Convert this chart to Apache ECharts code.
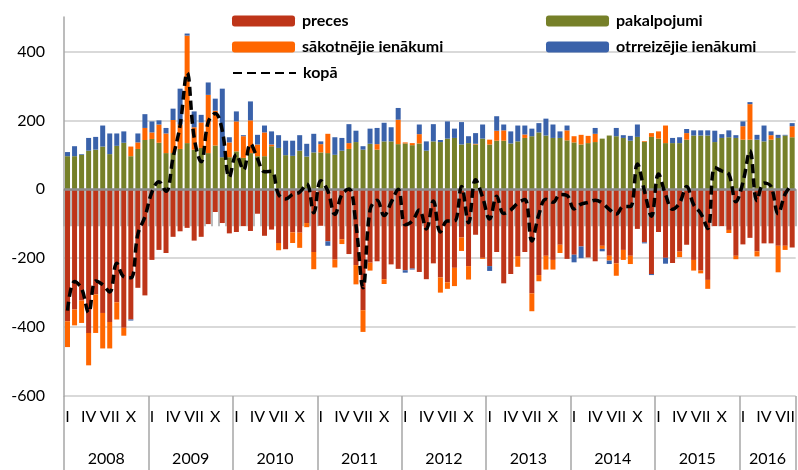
<!DOCTYPE html>
<html><head><meta charset="utf-8">
<script src="https://cdn.jsdelivr.net/npm/echarts@6/dist/echarts.min.js"></script>
<style>html,body{margin:0;padding:0;background:#fff}#c{width:798px;height:470px}</style>
</head><body><div id="c"></div>
<script>
const years = ['2008','2009','2010','2011','2012','2013','2014','2015','2016'];
const monthsPerYear = [12,12,12,12,12,12,12,12,8];
const monthTickLabels = ['I','','','IV','','','VII','','','X','',''];

const preces = [
 -383,-349,-323,-417,-305,-359,-385,-328,-402,-378,-286,-308,
 -205,-176,-185,-138,-122,-112,-149,-138,-101,-66,-98,-128,
 -124,-107,-121,-71,-135,-117,-156,-174,-125,-126,-98,-182,
 -106,-151,-204,-145,-188,-220,-351,-213,-209,-261,-218,-231,
 -235,-230,-240,-261,-215,-256,-270,-228,-140,-223,-132,-199,
 -223,-182,-273,-246,-194,-182,-302,-249,-193,-205,-161,-202,
 -190,-166,-198,-209,-164,-193,-215,-176,-193,-115,-154,-246,
 -124,-199,-214,-181,-161,-205,-236,-263,-107,-107,-118,-193,
 -160,-141,-180,-157,-157,-164,-164,-169
];
const pakalpojumi = [
 96,96,100,112,115,124,102,126,135,96,117,143,
 146,135,105,105,117,134,115,120,105,127,93,93,
 110,91,105,96,96,125,120,99,97,112,95,107,
 107,105,100,112,117,137,115,132,115,139,139,131,
 133,128,133,112,139,137,147,149,130,134,130,147,
 130,141,141,133,139,149,154,165,156,149,149,142,
 136,130,134,137,147,156,154,149,141,152,138,152,
 147,134,134,134,144,156,156,156,137,149,151,149,
 144,144,144,139,144,149,156,151
];
const sakotnejie = [
 -75,-46,-65,-94,-112,-103,-77,-50,-23,28,19,35,
 19,53,57,96,71,312,65,74,169,101,0,43,
 87,63,95,34,69,5,-21,0,-31,-44,-12,-50,
 24,56,-23,-14,17,-56,-63,-23,16,-14,0,71,
 3,6,27,0,0,-44,-19,-53,-39,-39,2,-3,
 14,29,30,0,-31,10,-52,-18,-40,-28,-24,29,
 18,28,21,24,-9,-14,-36,-29,-24,0,2,11,
 21,51,0,-16,19,-31,-8,-26,0,0,-9,-10,
 39,103,-15,0,13,-77,-12,32
];
const otrreizejie = [
 12,29,2,37,37,61,60,36,33,-3,26,40,
 32,12,16,33,104,6,46,22,36,35,199,15,
 29,3,55,28,20,38,37,42,44,45,37,54,
 8,-13,51,37,55,33,10,44,47,54,41,34,
 -7,-3,28,27,50,6,50,27,65,20,31,41,
 -14,42,17,35,46,26,22,27,49,39,19,14,
 -22,-34,0,17,-7,-10,24,8,14,36,-3,-3,
 0,-17,15,17,12,15,15,15,33,11,20,8,
 14,6,14,46,11,9,2,9
];
const kopa = [
 -352,-268,-288,-358,-266,-277,-298,-215,-254,-257,-130,-80,
 -8,22,-6,92,185,338,150,80,195,220,170,35,
 101,56,132,89,51,52,-15,-28,-15,-8,16,-68,
 25,-5,-73,-15,1,-103,-286,-60,-32,-76,-38,0,
 -103,-92,-60,-115,-34,-124,-92,-92,8,-97,28,-23,
 -86,-20,-70,-60,-40,-30,-150,-73,-29,-38,-15,-18,
 -57,-43,-38,-32,-40,-58,-72,-50,-50,73,-5,-78,
 44,-15,-58,-40,8,-45,-70,-114,63,53,44,-36,
 20,112,-33,18,8,-71,-14,15
];

const categories = [];
const monthIndex = [];
const yearOf = [];
years.forEach((y, yi) => {
  for (let m = 0; m < monthsPerYear[yi]; m++) {
    categories.push(y + '-' + (m + 1));
    monthIndex.push(m);
    yearOf.push(yi);
  }
});
const yearStart = [];
let acc = 0;
monthsPerYear.forEach(n => { yearStart.push(acc); acc += n; });

const FONT = 'Lato, "Open Sans", sans-serif';
const C = { preces:'#BE3519', pak:'#768029', sak:'#FF6600', otr:'#3A62AA' };

const chart = echarts.init(document.getElementById('c'), null, {renderer:'canvas'});
const legendBase = {
  itemWidth: 63, itemHeight: 11, padding: 0, itemGap: 0, selectedMode: false,
  textStyle: { fontSize: 16, fontWeight: 'bold', color: '#000', fontFamily: FONT, padding: [0,0,0,2] }
};
const gridColors = ['#d9d9d9','#d9d9d9','#d9d9d9','#d9d9d9','#d9d9d9','#d9d9d9','rgba(0,0,0,0)'];

chart.setOption({
  animation: false,
  backgroundColor: '#fff',
  grid: { left: 64, right: -4, top: 17, bottom: 74, containLabel: false },
  legend: [
    Object.assign({}, legendBase, { data: ['preces'], left: 232, top: 13 }),
    Object.assign({}, legendBase, { data: ['sākotnējie ienākumi'], left: 232, top: 39 }),
    Object.assign({}, legendBase, { data: ['kopā'], left: 232, top: 65,
      itemStyle: { color: 'rgba(0,0,0,0)', borderColor: 'rgba(0,0,0,0)', borderWidth: 0 } }),
    Object.assign({}, legendBase, { data: ['pakalpojumi'], left: 546, top: 13 }),
    Object.assign({}, legendBase, { data: ['otrreizējie ienākumi'], left: 546, top: 39 })
  ],
  xAxis: [
    {
      type: 'category', data: categories, position: 'bottom', boundaryGap: true,
      axisLine: { show: true, lineStyle: { color: '#a6a6a6', width: 1.5 } },
      axisTick: { show: true, interval: 0, length: 37, lineStyle: { color: '#a6a6a6', width: 1.5 } },
      axisLabel: {
        interval: 0, fontSize: 16, color: '#000', fontFamily: FONT, margin: 13,
        formatter: (v, i) => monthTickLabels[monthIndex[i]] || ''
      },
      splitLine: { show: false }
    },
    {
      type: 'category', data: categories, position: 'bottom', boundaryGap: true,
      axisLine: { show: false },
      axisTick: { show: true, length: 74, interval: (i) => yearStart.indexOf(i) >= 0,
        lineStyle: { color: '#a6a6a6', width: 1.5 } },
      axisLabel: {
        interval: 0, fontSize: 16, color: '#000', fontFamily: FONT, margin: 55,
        formatter: (v, i) => {
          const yi = yearOf[i];
          const half = Math.floor(monthsPerYear[yi] / 2);
          return (i - yearStart[yi] === half) ? '{y|' + years[yi] + '}' : '';
        },
        rich: { y: { fontSize: 16, color: '#000', fontFamily: FONT, padding: [0, 7, 0, 0] } }
      },
      splitLine: { show: false }
    }
  ],
  yAxis: {
    type: 'value', min: -600, max: 500, interval: 200,
    axisLine: { show: true, lineStyle: { color: '#a6a6a6', width: 1.5 } },
    axisTick: { show: false },
    axisLabel: { fontSize: 16, color: '#000', fontFamily: FONT, margin: 19,
      formatter: v => (v === 500 ? '' : String(v)) },
    splitLine: { show: true, lineStyle: { color: gridColors, width: 2 } }
  },
  series: [
    { name: 'preces', type: 'bar', stack: 'ca', data: preces, barWidth: 5, itemStyle: { color: C.preces } },
    { name: 'pakalpojumi', type: 'bar', stack: 'ca', data: pakalpojumi, barWidth: 5, itemStyle: { color: C.pak } },
    { name: 'sākotnējie ienākumi', type: 'bar', stack: 'ca', data: sakotnejie, barWidth: 5, itemStyle: { color: C.sak } },
    { name: 'otrreizējie ienākumi', type: 'bar', stack: 'ca', data: otrreizejie, barWidth: 5, itemStyle: { color: C.otr } },
    { name: 'kopā', type: 'line', data: kopa, smooth: 0.4, symbol: 'none', z: 5,
      lineStyle: { color: '#000', width: 3.5, type: [9, 5], cap: 'butt' },
      itemStyle: { color: '#000' },
      markLine: { silent: true, symbol: 'none', label: { show: false },
        lineStyle: { color: '#8c8c8c', width: 2.5, type: 'solid' },
        data: [{ yAxis: 0 }] }
    }
  ]
});
</script>
</body></html>
